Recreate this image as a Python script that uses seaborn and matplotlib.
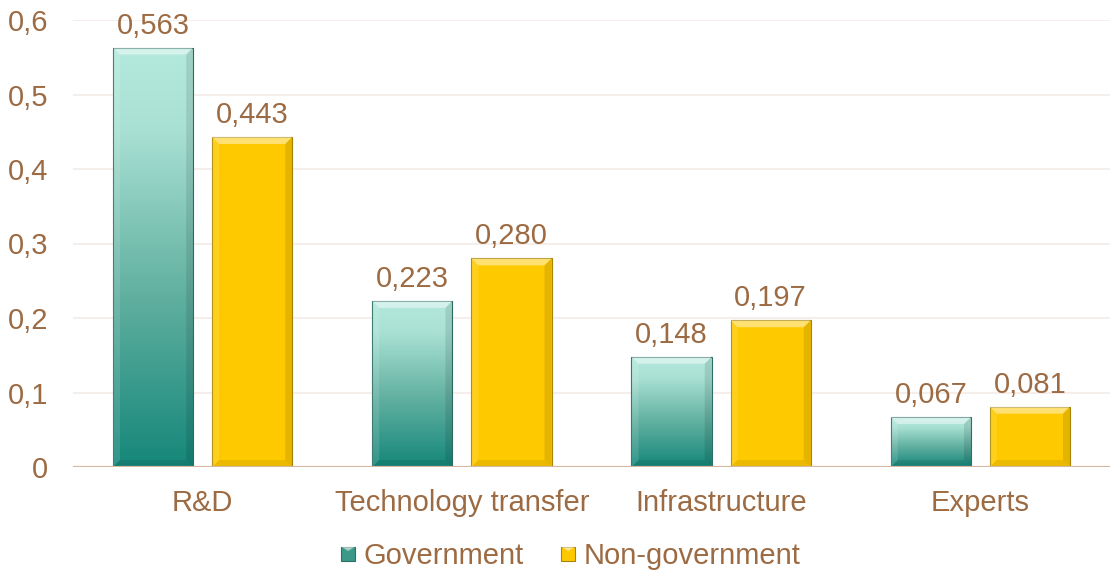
import numpy as np
import pandas as pd
import matplotlib
matplotlib.use("Agg")
import matplotlib.pyplot as plt
import seaborn as sns
from matplotlib.colors import LinearSegmentedColormap
from matplotlib.patches import Polygon, Rectangle
from matplotlib.legend_handler import HandlerPatch

categories = ["R&D", "Technology transfer", "Infrastructure", "Experts"]
government = [0.563, 0.223, 0.148, 0.067]
non_government = [0.443, 0.280, 0.197, 0.081]
series_names = ["Government", "Non-government"]
y_ticks = [0, 0.1, 0.2, 0.3, 0.4, 0.5, 0.6]
y_tick_labels = ["0", "0,1", "0,2", "0,3", "0,4", "0,5", "0,6"]

TEXT = "#9C6B43"
GRID = "#F3EBE6"
BASE = "#D6B8A0"
YELLOW = "#FFC900"
TEAL_EDGE = "#2E6E64"
YELLOW_EDGE = "#A88400"
FS = 21

df = pd.DataFrame({
    "category": categories * 2,
    "value": government + non_government,
    "sector": [series_names[0]] * 4 + [series_names[1]] * 4,
})

sns.set_theme(style="white")
plt.rcParams["font.family"] = ["Liberation Sans", "DejaVu Sans"]

fig = plt.figure(figsize=(11.15, 5.75), dpi=100)
ax = fig.add_axes([73 / 1115, 1 - 467 / 575, (1110 - 73) / 1115, 447 / 575])

sns.barplot(data=df, x="category", y="value", hue="sector",
            palette=["#5FB3A3", YELLOW], saturation=1, width=0.764, gap=0.19,
            ax=ax, legend=False, zorder=3)

ax.set_xlim(-0.5, 3.5)
ax.set_ylim(0, 0.6)
ax.set_yticks(y_ticks)
ax.set_yticklabels(y_tick_labels)
ax.set_xlabel("")
ax.set_ylabel("")
for s in ax.spines.values():
    s.set_visible(False)
ax.grid(axis="y", color=GRID, linewidth=1.2, zorder=0)
ax.axhline(0, color=BASE, linewidth=1.6, zorder=6)
ax.tick_params(axis="both", length=0, labelsize=FS, colors=TEXT)
ax.tick_params(axis="y", pad=18)
ax.tick_params(axis="x", pad=16)

teal_cmap = LinearSegmentedColormap.from_list(
    "teal", [(0.0, "#B4EADD"), (0.2, "#A8E0D3"), (0.6, "#5FAF9F"), (1.0, "#15877A")])

# per-pixel sizes for the bevel
px_x = (ax.get_xlim()[1] - ax.get_xlim()[0]) / (1110 - 73)
px_y = (ax.get_ylim()[1] - ax.get_ylim()[0]) / 447
bev = 7

patches = list(ax.patches)
n = len(categories)
for i, p in enumerate(patches):
    x, w, h = p.get_x(), p.get_width(), p.get_height()
    is_gov = i < n
    if is_gov:
        grad = np.linspace(0, 1, 256).reshape(-1, 1)
        im = ax.imshow(grad, cmap=teal_cmap, aspect="auto", origin="upper",
                       extent=(x, x + w, 0, h), zorder=3, interpolation="bicubic")
        im.set_clip_path(p)
        p.set_facecolor("none")
        p.set_edgecolor(TEAL_EDGE)
    else:
        p.set_edgecolor(YELLOW_EDGE)
    p.set_linewidth(0.8)
    p.set_zorder(4)
    dx, dy = bev * px_x, bev * px_y
    top = [(x, h), (x + w, h), (x + w - dx, h - dy), (x + dx, h - dy)]
    bot = [(x, 0), (x + w, 0), (x + w - dx, dy), (x + dx, dy)]
    left = [(x, 0), (x, h), (x + dx, h - dy), (x + dx, dy)]
    right = [(x + w, 0), (x + w, h), (x + w - dx, h - dy), (x + w - dx, dy)]
    ax.add_patch(Polygon(top, closed=True, facecolor="white", alpha=0.45,
                         edgecolor="none", zorder=4.5))
    ax.add_patch(Polygon(left, closed=True, facecolor="white", alpha=0.12,
                         edgecolor="none", zorder=4.5))
    ax.add_patch(Polygon(right, closed=True, facecolor="black", alpha=0.10,
                         edgecolor="none", zorder=4.5))
    ax.add_patch(Polygon(bot, closed=True, facecolor="black", alpha=0.08,
                         edgecolor="none", zorder=4.5))
    ax.text(x + w / 2, h + 8 * px_y, f"{h:.3f}".replace(".", ","),
            ha="center", va="bottom", fontsize=FS, color=TEXT, zorder=7)


class GradientSquare(HandlerPatch):
    def create_artists(self, legend, orig_handle, xdescent, ydescent,
                       width, height, fontsize, trans):
        size = min(width, height) * 0.85
        x0 = -xdescent + width - size
        y0 = -ydescent + (height - size) / 2
        r = Rectangle((x0, y0), size, size, facecolor=orig_handle.get_facecolor(),
                      edgecolor=orig_handle.get_edgecolor(), linewidth=0.8,
                      transform=trans)
        d = size * 0.3
        tri = Polygon([(x0, y0 + size), (x0 + size, y0 + size),
                       (x0 + size / 2, y0 + size - d)], closed=True,
                      facecolor="white", alpha=0.55, edgecolor="none",
                      transform=trans)
        return [r, tri]


handles = [Rectangle((0, 0), 1, 1, facecolor="#3C9888", edgecolor=TEAL_EDGE),
           Rectangle((0, 0), 1, 1, facecolor=YELLOW, edgecolor=YELLOW_EDGE)]
leg = fig.legend(handles, series_names, loc="center", bbox_to_anchor=(0.511, 1 - 556 / 575),
                 ncol=2, frameon=False, fontsize=FS, handlelength=0.55, handleheight=0.55,
                 handletextpad=0.3, columnspacing=1.2,
                 handler_map={Rectangle: GradientSquare()})
for t in leg.get_texts():
    t.set_color(TEXT)

fig.savefig("out.png", dpi=100, facecolor="white")
